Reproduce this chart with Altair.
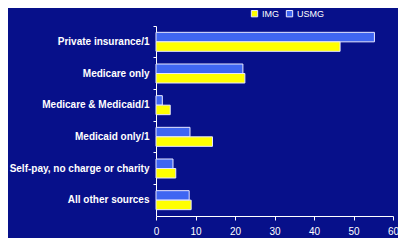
import altair as alt
import pandas as pd

categories = ["Private insurance/1", "Medicare only", "Medicare & Medicaid/1",
              "Medicaid only/1", "Self-pay, no charge or charity", "All other sources"]
usmg = [55.3, 22.0, 1.6, 8.6, 4.3, 8.4]
img = [46.6, 22.5, 3.6, 14.3, 5.0, 8.9]
series = ["IMG", "USMG"]
x_ticks = [0, 10, 20, 30, 40, 50, 60]

rows = []
for c, u, i in zip(categories, usmg, img):
    rows.append({"source": c, "group": "USMG", "value": u})
    rows.append({"source": c, "group": "IMG", "value": i})
df = pd.DataFrame(rows)

FONT = "Liberation Sans"

chart = alt.Chart(df).mark_bar(stroke="#e8e8ff", strokeWidth=1).encode(
    x=alt.X("value:Q", scale=alt.Scale(domain=[0, 60], nice=False),
            axis=alt.Axis(values=x_ticks, title=None, grid=False, domainColor="white",
                          tickColor="white", tickSize=4, labelPadding=6,
                          labelColor="white", labelFontSize=10, labelFont=FONT,
                          labelFlush=False)),
    y=alt.Y("source:N", sort=categories,
            scale=alt.Scale(paddingInner=0.4, paddingOuter=0.2),
            axis=alt.Axis(title=None, domainColor="white", tickColor="white",
                          tickSize=3, bandPosition=-0.333, labelPadding=4,
                          labelColor="white", labelFontSize=10, labelFontWeight="bold",
                          labelFont=FONT)),
    yOffset=alt.YOffset("group:N", sort=["USMG", "IMG"], scale=alt.Scale(paddingInner=0)),
    color=alt.Color("group:N", scale=alt.Scale(domain=series, range=["#ffff00", "#3f66f2"]),
                    legend=alt.Legend(title=None, orient="none", direction="horizontal",
                                      legendX=94, legendY=-17, padding=0,
                                      symbolType="square", symbolSize=40,
                                      symbolStrokeColor="#e8e8ff", symbolStrokeWidth=1,
                                      labelColor="white", labelFontSize=9, labelFont=FONT,
                                      labelOffset=3, columnPadding=5)),
).properties(
    width=237, height=190,
    background="#07108a",
    padding={"left": 148, "top": 18, "right": 5, "bottom": 22},
    autosize=alt.AutoSizeParams(type="none"),
).configure_view(stroke=None)

chart.save("out.html", embed_options={"renderer": "svg", "actions": False})
